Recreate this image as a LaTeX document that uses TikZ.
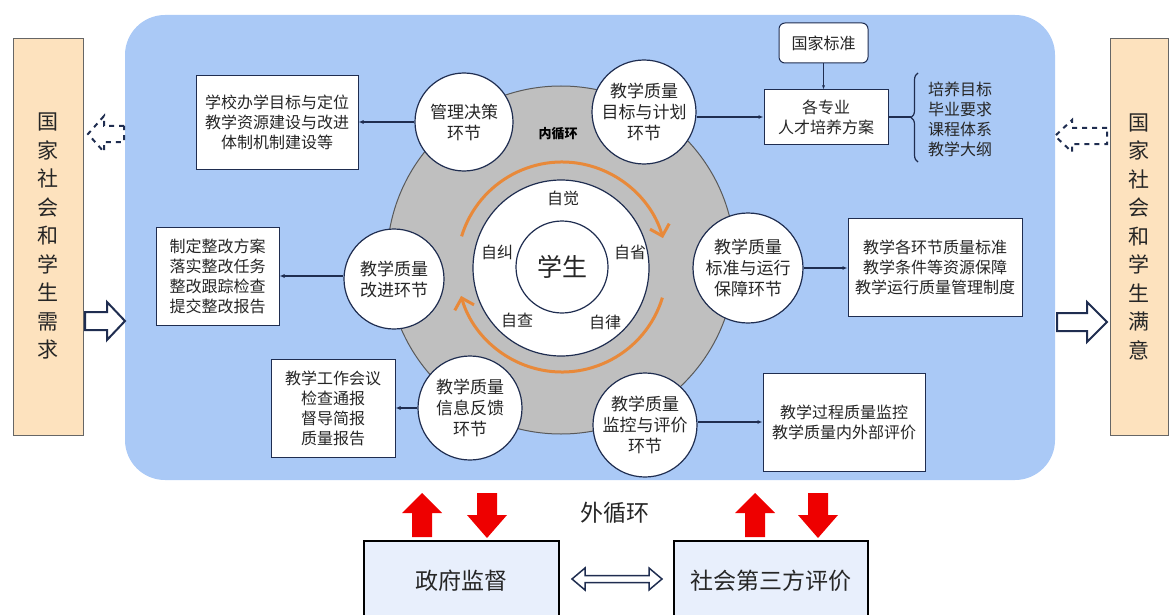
\documentclass[tikz,border=0pt]{standalone}
\usepackage{fontspec}
\setmainfont{Noto Sans CJK SC}
\usetikzlibrary{arrows.meta,calc,decorations.pathreplacing}
\definecolor{bluebg}{RGB}{170,201,246}
\definecolor{tan}{RGB}{253,226,190}
\definecolor{ringgray}{RGB}{191,191,191}
\definecolor{navy}{RGB}{31,45,80}
\definecolor{arcorange}{RGB}{232,137,58}
\definecolor{redarr}{RGB}{238,0,0}
\definecolor{lightbox}{RGB}{232,239,252}
\definecolor{txt}{RGB}{38,38,38}
\begin{document}
\begin{tikzpicture}[x=1pt,y=-1pt,
  stage/.style={circle, draw=navy, line width=1.2pt, fill=white, align=center,
    font=\fontsize{17}{21}\selectfont, inner sep=0pt, text=txt},
  infobox/.style={rectangle, draw=navy, line width=1pt, fill=white, align=center,
    font=\fontsize{16}{20}\selectfont, inner sep=0pt, text=txt},
  sidebox/.style={rectangle, draw=black!60, line width=0.8pt, fill=tan, align=center,
    font=\fontsize{21}{28.5}\selectfont, inner sep=0pt, text=txt},
  conn/.style={-{Latex[length=5pt,width=4pt]}, draw=navy, line width=1.2pt},
  hollow/.style={draw=navy, line width=2pt, fill=white, line join=miter},
  hollowdash/.style={draw=navy, line width=2pt, dash pattern=on 5pt off 5pt},
  redblock/.style={fill=redarr, draw=none},
  orangearc/.style={draw=arcorange, line width=3pt, -{Straight Barb[length=10pt,width=20pt,line width=3pt]}},
  selfword/.style={font=\fontsize{16}{20}\selectfont, text=txt},
  govbox/.style={rectangle, draw=black, line width=2.5pt, fill=lightbox, align=center,
    font=\fontsize{23}{28}\selectfont, inner sep=0pt, text=txt}
]
\useasboundingbox (0,0) rectangle (1169,615);

% background panel
\fill[bluebg, rounded corners=40pt] (125,15) rectangle (1055,480);

% side boxes
\node[sidebox, minimum width=70, minimum height=397] (need) at (48,236.5)
  {国\\家\\社\\会\\和\\学\\生\\需\\求};
\node[sidebox, minimum width=58, minimum height=397] (satis) at (1139,236.5)
  {国\\家\\社\\会\\和\\学\\生\\满\\意};

% side block arrows
\draw[hollow] (85,312) -- (107,312) -- (107,302) -- (125,321) -- (107,340) -- (107,330) -- (85,330) -- cycle;
\draw[hollow] (1057,313) -- (1087,313) -- (1087,302) -- (1107,322) -- (1087,342) -- (1087,331) -- (1057,331) -- cycle;
\draw[hollowdash] (124,126) -- (104,126) -- (104,116) -- (88,134) -- (104,152) -- (104,142) -- (124,142) -- cycle;
\draw[hollowdash] (1107,128) -- (1072,128) -- (1072,120) -- (1055,136) -- (1072,152) -- (1072,144) -- (1107,144) -- cycle;

% ring
\node[circle, minimum size=348, fill=ringgray, draw=black!65, line width=1pt, inner sep=0pt] (ring) at (561,260) {};
\node[circle, minimum size=176, fill=white, draw=navy, line width=1.2pt, inner sep=0pt] (self) at (561,268) {};
\node[circle, minimum size=92, fill=white, draw=navy, line width=1.2pt, inner sep=0pt,
  font=\fontsize{25}{30}\selectfont, text=txt] (student) at (562,267) {学生};
\node[font=\bfseries\fontsize{13}{16}\selectfont, text=black] (inner) at (558,134) {内循环};

\node[selfword] (zj1) at (563,198) {自觉};
\node[selfword] (zj2) at (497,252) {自纠};
\node[selfword] (zj3) at (630,252) {自省};
\node[selfword] (zj4) at (517,320) {自查};
\node[selfword] (zj5) at (605,322) {自律};

% orange arcs
\draw[orangearc] (461.6,236.3) arc[start angle=197, end angle=344, radius=105];
\draw[orangearc] (662.4,297.7) arc[start angle=17, end angle=164, radius=105];

% stage circles
\node[stage, minimum size=98] (c1) at (464,122) {管理决策\\环节};
\node[stage, minimum size=104] (c2) at (644,112) {教学质量\\目标与计划\\环节};
\node[stage, minimum size=110] (c3) at (748,268) {教学质量\\标准与运行\\保障环节};
\node[stage, minimum size=104] (c4) at (645,425) {教学质量\\监控与评价\\环节};
\node[stage, minimum size=104] (c5) at (470,408) {教学质量\\信息反馈\\环节};
\node[stage, minimum size=100] (c6) at (394,279) {教学质量\\改进环节};

% info boxes
\node[infobox, minimum width=162, minimum height=93] (bA) at (277,122.5)
  {学校办学目标与定位\\教学资源建设与改进\\体制机制建设等};
\node[infobox, rounded corners=6pt, minimum width=89, minimum height=40] (std) at (823.5,43) {国家标准};
\node[infobox, minimum width=124, minimum height=54] (bC) at (826,117) {各专业\\人才培养方案};
\node[infobox, minimum width=174, minimum height=98] (bD) at (935,267)
  {教学各环节质量标准\\教学条件等资源保障\\教学运行质量管理制度};
\node[infobox, minimum width=162, minimum height=98] (bE) at (844,422)
  {教学过程质量监控\\教学质量内外部评价};
\node[infobox, minimum width=124, minimum height=98] (bG) at (333,408)
  {教学工作会议\\检查通报\\督导简报\\质量报告};
\node[infobox, minimum width=123, minimum height=98] (bF) at (217.5,276)
  {制定整改方案\\落实整改任务\\整改跟踪检查\\提交整改报告};
\node[font=\fontsize{16}{20}\selectfont, align=center, text=txt] (blist) at (960,119)
  {培养目标\\毕业要求\\课程体系\\教学大纲};

% connectors
\draw[conn] (c1.west) -- (c1.west -| bA.east);
\draw[conn] (bC.west -| c2.east) -- (bC.west);
\draw[-{Latex[length=4pt,width=3pt]}, draw=navy, line width=0.8pt] (std.south) -- (std.south |- bC.north);
\draw[conn] (c3.east) -- (c3.east -| bD.west);
\draw[conn] (bE.west -| c4.east) -- (bE.west);
\draw[conn] (bG.east -| c5.west) -- (bG.east);
\draw[conn] (bF.east -| c6.west) -- (bF.east);
\coordinate (bt) at (911,117);
\draw[navy, line width=1.2pt] (bC.east) -- (bt);
\draw[navy, line width=1.2pt, decorate, decoration={brace, amplitude=7pt}] (918,162) -- (918,73);

% outer loop
\node[font=\fontsize{23}{28}\selectfont, text=txt] (outer) at (615,513) {外循环};
\node[govbox, minimum width=195, minimum height=79] (gov) at (461.5,580.5) {政府监督};
\node[govbox, minimum width=194, minimum height=79] (third) at (771,580.5) {社会第三方评价};

% red arrows
\fill[redblock] (422,493) -- (442,513) -- (432,513) -- (432,537) -- (412,537) -- (412,513) -- (402,513) -- cycle;
\fill[redblock] (477,493) -- (497,493) -- (497,515) -- (507,515) -- (487,538) -- (467,515) -- (477,515) -- cycle;
\fill[redblock] (755,493) -- (775,513) -- (765,513) -- (765,537) -- (745,537) -- (745,513) -- (735,513) -- cycle;
\fill[redblock] (808,493) -- (828,493) -- (828,515) -- (838,515) -- (818,538) -- (798,515) -- (808,515) -- cycle;

% double arrow
\draw[draw=navy, line width=1.5pt, fill=white] (572,579) -- (585,568) -- (585,575.5) -- (649,575.5) -- (649,568) -- (662,579) -- (649,590) -- (649,582.5) -- (585,582.5) -- (585,590) -- cycle;
\end{tikzpicture}
\end{document}
